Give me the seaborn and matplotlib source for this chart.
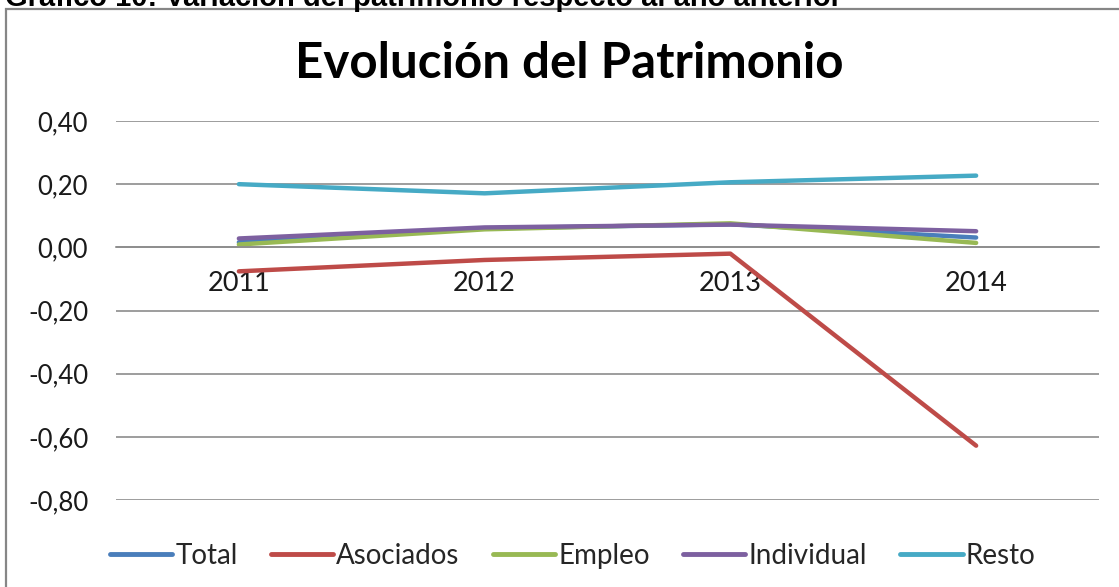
import pandas as pd
import matplotlib
matplotlib.use('Agg')
import matplotlib.pyplot as plt
import matplotlib.patches as patches
import seaborn as sns

# Chart data
years = ['2011', '2012', '2013', '2014']
series_names = ['Total', 'Asociados', 'Empleo', 'Individual', 'Resto']
total = [0.016, 0.060, 0.073, 0.031]
asociados = [-0.076, -0.040, -0.020, -0.628]
empleo = [0.009, 0.057, 0.076, 0.014]
individual = [0.028, 0.063, 0.072, 0.051]
resto = [0.200, 0.171, 0.206, 0.227]
y_ticks = [-0.80, -0.60, -0.40, -0.20, 0.00, 0.20, 0.40]

colors = ['#4A7EBB', '#BE4B48', '#98B954', '#7D60A0', '#46AAC5']

# long format for seaborn
rows = []
for name, vals in zip(series_names, [total, asociados, empleo, individual, resto]):
    for i, v in enumerate(vals):
        rows.append({'pos': i, 'Año': years[i], 'Serie': name, 'Valor': v})
df = pd.DataFrame(rows)

sns.set_style('white')
plt.rcParams['font.family'] = ['Lato', 'DejaVu Sans']

fig = plt.figure(figsize=(11.19, 5.87), dpi=100)
ax = fig.add_axes([116 / 1119, 87 / 587, 983 / 1119, 379 / 587])

sns.lineplot(data=df, x='pos', y='Valor', hue='Serie', hue_order=series_names,
             palette=colors, linewidth=3.2, sort=False, ax=ax,
             solid_capstyle='round')

ax.set_xlim(-0.5, 3.5)
ax.set_ylim(-0.8, 0.4)
ax.set_yticks(y_ticks)
ax.set_yticklabels(['{:.2f}'.format(t).replace('.', ',') for t in y_ticks])
ax.set_xticks(range(len(years)))
ax.set_xticklabels(years)
ax.set_xlabel('')
ax.set_ylabel('')

ax.grid(axis='y', color='#8c8c8c', linewidth=1.2)
ax.set_axisbelow(True)
for s in ['top', 'right', 'left']:
    ax.spines[s].set_visible(False)
ax.spines['bottom'].set_position(('data', 0))
ax.spines['bottom'].set_color('#8c8c8c')
ax.spines['bottom'].set_linewidth(1.2)
ax.tick_params(axis='both', length=0, colors='#1a1a1a')
ax.tick_params(axis='x', pad=17, labelsize=19.5)
ax.tick_params(axis='y', pad=20, labelsize=18.5)

leg = ax.legend(loc='center', bbox_to_anchor=(572.5 / 1119, 1 - 556 / 587),
                bbox_transform=fig.transFigure,
                ncol=5, frameon=False, fontsize=20, handlelength=2.25,
                handletextpad=0.1, columnspacing=1.2)
for line in leg.get_lines():
    line.set_linewidth(3.5)

fig.text(569 / 1119, 1 - 78 / 587, 'Evolución del Patrimonio', ha='center', va='baseline',
         fontsize=35.5, fontweight='bold', color='black')

# caption cut at the top of the picture
fig.text(5 / 1119, 1 - 6 / 587, 'Gráfico 10: Variación del patrimonio respecto al año anterior',
         ha='left', va='baseline', fontsize=21, fontweight='bold',
         family=['Liberation Sans', 'DejaVu Sans'], color='black')

# chart area border
fig.patches.append(patches.Rectangle((6 / 1119, -0.1), 1.2, 1.1 - 9 / 587,
                                     transform=fig.transFigure, fill=False,
                                     edgecolor='#868686', linewidth=1.6))

fig.savefig('out.png', dpi=100, facecolor='white')
